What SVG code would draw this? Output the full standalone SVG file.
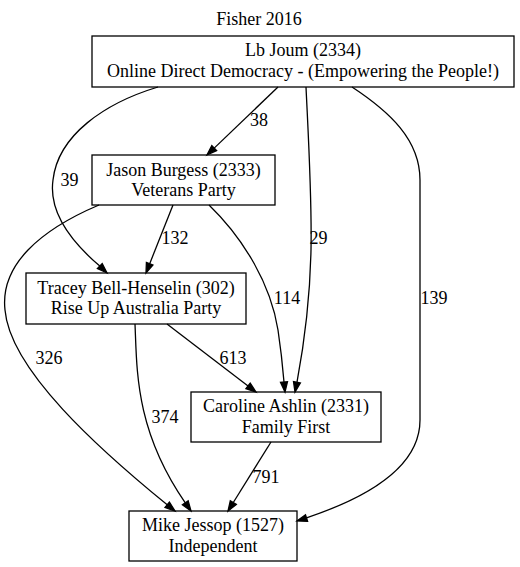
<svg xmlns="http://www.w3.org/2000/svg" width="520" height="567" viewBox="0 0 520 567">
<style>
text{font-family:"Liberation Serif","Times New Roman",serif;font-size:18px;fill:#000;text-anchor:middle}
.node rect{fill:none;stroke:#000;stroke-width:1.3}
.edge path{fill:none;stroke:#000;stroke-width:1.3}
.edge polygon{fill:#000;stroke:#000;stroke-width:1.3}
</style>
<rect x="0" y="0" width="520" height="567" fill="#fff"/>
<text x="259" y="25">Fisher 2016</text>
<g id="edges" class="edge">
<g id="e38"><path d="M278,87 L214.2,148.1"/><polygon points="216.6,150.6 207,155 211.8,145.6"/><text x="259" y="126">38</text></g>
<g id="e39"><path d="M158,87 C105,103 58,135 53,180 C48,215 75,245 99.8,266.1"/><polygon points="102.2,263.6 107,273 97.4,268.6"/><text x="69.5" y="186">39</text></g>
<g id="e29"><path d="M306,87 C309,150 312,200 311,250 C310,300 303,350 297,382.2"/><polygon points="300.4,382.9 295,392 293.5,381.5"/><text x="318.5" y="244">29</text></g>
<g id="e139"><path d="M352,87 C390,112 420,140 420,180 L420,420 C420,470 360,500 306.5,517.8"/><polygon points="307.6,521.3 297,521 305.5,514.7"/><text x="434" y="304">139</text></g>
<g id="e132"><path d="M173,205 L149.7,263.7"/><polygon points="152.9,265 146,273 146.4,262.4"/><text x="175" y="244">132</text></g>
<g id="e326"><path d="M99,205 C40,230 0,265 5,310 C10,370 100,450 167.2,504.8"/><polygon points="169.4,502.1 175,511 165,507.5"/><text x="49" y="364">326</text></g>
<g id="e114"><path d="M209,205 C240,235 270,280 278,330 C281,350 283,370 284,382"/><polygon points="287.5,381.7 285,392 280.5,382.3"/><text x="287" y="304">114</text></g>
<g id="e374"><path d="M135,324 C137,370 135,430 185.3,502.8"/><polygon points="188.2,500.8 191,511 182.4,504.8"/><text x="165" y="423">374</text></g>
<g id="e613"><path d="M167,324 L248.05,385.93"/><polygon points="250.2,383.1 256,392 245.9,388.7"/><text x="233" y="364">613</text></g>
<g id="e791"><path d="M271,442 L233.3,502.5"/><polygon points="236.3,504.4 228,511 230.3,500.7"/><text x="266" y="483">791</text></g>
</g>
<g id="lbjoum" class="node"><rect x="92" y="36" width="422" height="51"/><text x="303" y="56">Lb Joum (2334)</text><text x="303" y="77">Online Direct Democracy - (Empowering the People!)</text></g>
<g id="jason" class="node"><rect x="92" y="155" width="183" height="50"/><text x="183.5" y="176">Jason Burgess (2333)</text><text x="183.5" y="196">Veterans Party</text></g>
<g id="tracey" class="node"><rect x="26" y="273" width="220" height="51"/><text x="136" y="294">Tracey Bell-Henselin (302)</text><text x="136" y="314">Rise Up Australia Party</text></g>
<g id="caroline" class="node"><rect x="191" y="392" width="190" height="50"/><text x="286" y="412">Caroline Ashlin (2331)</text><text x="286" y="433">Family First</text></g>
<g id="mike" class="node"><rect x="129" y="511" width="168" height="50"/><text x="213" y="531">Mike Jessop (1527)</text><text x="213" y="552">Independent</text></g>
</svg>
